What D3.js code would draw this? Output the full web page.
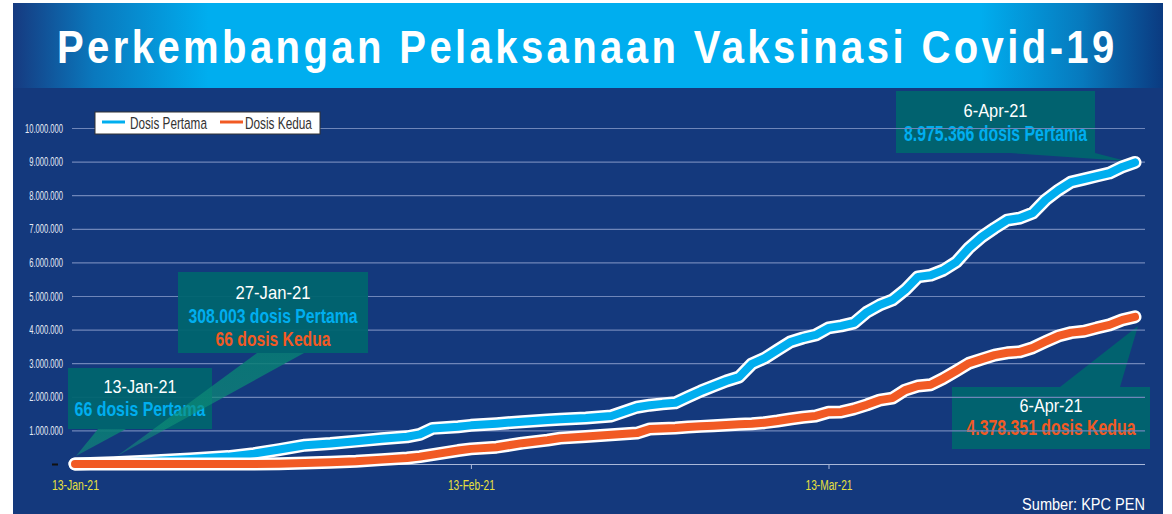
<!DOCTYPE html>
<html>
<head>
<meta charset="utf-8">
<script src="https://cdn.jsdelivr.net/npm/d3@7"></script>
<style>
  html, body { margin: 0; padding: 0; background: #fff; }
  svg { display: block; }
  text { font-family: "Liberation Sans", Arial, sans-serif; }
</style>
</head>
<body>
<div id="chart"></div>
<script>
// data (cumulative doses)
const dates = [
  "2021-01-13", "2021-01-16", "2021-01-19", "2021-01-22", "2021-01-25", "2021-01-27", "2021-01-29", "2021-01-31",
  "2021-02-02", "2021-02-04", "2021-02-06", "2021-02-08", "2021-02-09", "2021-02-10", "2021-02-12", "2021-02-13",
  "2021-02-15", "2021-02-17", "2021-02-19", "2021-02-20", "2021-02-22", "2021-02-24", "2021-02-26", "2021-02-27",
  "2021-02-28",
  "2021-03-01", "2021-03-02", "2021-03-03", "2021-03-04", "2021-03-05", "2021-03-06", "2021-03-07", "2021-03-08",
  "2021-03-09", "2021-03-10", "2021-03-11", "2021-03-12", "2021-03-13", "2021-03-14", "2021-03-15", "2021-03-16",
  "2021-03-17", "2021-03-18", "2021-03-19", "2021-03-20", "2021-03-21", "2021-03-22", "2021-03-23", "2021-03-24",
  "2021-03-25", "2021-03-26", "2021-03-27", "2021-03-28", "2021-03-29", "2021-03-30", "2021-03-31",
  "2021-04-01", "2021-04-02", "2021-04-03", "2021-04-04", "2021-04-05", "2021-04-06"
];

const dosisPertama = [
  66, 40000, 90000, 150000, 220000, 308003, 430000, 560000,
  610000, 680000, 750000, 810000, 880000, 1060000, 1110000, 1150000,
  1200000, 1260000, 1310000, 1330000, 1370000, 1430000, 1690000, 1750000,
  1790000,
  1820000, 2000000, 2170000, 2320000, 2470000, 2590000, 2980000, 3150000,
  3390000, 3630000, 3750000, 3840000, 4050000, 4110000, 4200000, 4520000,
  4730000, 4880000, 5180000, 5570000, 5620000, 5770000, 6010000, 6430000,
  6760000, 7020000, 7260000, 7320000, 7470000, 7860000, 8150000,
  8390000, 8480000, 8570000, 8660000, 8840000, 8975366
];

const dosisKedua = [
  0, 0, 0, 0, 0, 66, 10000, 30000,
  50000, 80000, 130000, 180000, 220000, 280000, 400000, 450000,
  500000, 620000, 710000, 770000, 820000, 870000, 920000, 1040000,
  1060000,
  1070000, 1100000, 1120000, 1140000, 1160000, 1180000, 1200000, 1230000,
  1280000, 1340000, 1390000, 1430000, 1540000, 1550000, 1640000, 1760000,
  1900000, 1960000, 2200000, 2320000, 2360000, 2550000, 2770000, 3000000,
  3120000, 3240000, 3310000, 3340000, 3460000, 3640000, 3810000,
  3910000, 3950000, 4050000, 4140000, 4290000, 4378351
];

const seriesNames = ["Dosis Pertama", "Dosis Kedua"];
const yTicks = [0, 1e6, 2e6, 3e6, 4e6, 5e6, 6e6, 7e6, 8e6, 9e6, 10e6];
const xTicks = ["2021-01-13", "2021-02-13", "2021-03-13"];

const title = "Perkembangan Pelaksanaan Vaksinasi Covid-19";
const source = "Sumber: KPC PEN";

const COLORS = {
  navy: "#14397d",
  pertama: "#00aeef",
  kedua: "#f15a24",
  box: "#00646f",
  grid: "#6f86b9",
  tick: "#e8e03c"
};

// callout boxes (layout in px)
const callouts = [
  { x: 68, y: 368, w: 144, h: 61, top: false, tail: [[98, 429], [126, 429], [76, 456]],
    lines: [
      { t: "13-Jan-21", y: 393, w: 73, size: 18, color: "#fff" },
      { t: "66 dosis Pertama", y: 416, w: 131, size: 21, color: COLORS.pertama, bold: true }
    ] },
  { x: 178, y: 272, w: 190, h: 81, top: false, tail: [[257, 353], [304, 353], [117, 456]],
    lines: [
      { t: "27-Jan-21", y: 299, w: 75, size: 18, color: "#fff" },
      { t: "308.003 dosis Pertama", y: 323, w: 169, size: 21, color: COLORS.pertama, bold: true },
      { t: "66 dosis Kedua", y: 346, w: 115, size: 21, color: COLORS.kedua, bold: true }
    ] },
  { x: 896, y: 91, w: 199, h: 62, top: true, tail: [[1010, 153], [1095, 153], [1126, 161]],
    lines: [
      { t: "6-Apr-21", y: 117, w: 64, size: 18, color: "#fff" },
      { t: "8.975.366 dosis Pertama", y: 141, w: 183, size: 22, color: COLORS.pertama, bold: true }
    ] },
  { x: 952, y: 387, w: 198, h: 62, top: true, tail: [[1060, 387], [1120, 387], [1138, 326]],
    lines: [
      { t: "6-Apr-21", y: 412, w: 63, size: 18, color: "#fff" },
      { t: "4.378.351 dosis Kedua", y: 435, w: 169, size: 22, color: COLORS.kedua, bold: true }
    ] }
];

const W = 1172, H = 514;
const parse = d3.timeParse("%Y-%m-%d");

const svg = d3.select("#chart").append("svg")
  .attr("width", W)
  .attr("height", H);

// squeeze a text horizontally so it fills width w, anchored at (x, y)
function fitText(sel, x, y, w, anchor) {
  const natural = sel.node().getComputedTextLength();
  const k = w / natural;
  sel.attr("x", 0).attr("y", 0)
    .attr("text-anchor", anchor)
    .attr("transform", `translate(${x},${y}) scale(${k},1)`);
  return sel;
}

const defs = svg.append("defs");
const grad = defs.append("linearGradient").attr("id", "titleGrad")
  .attr("x1", "0%").attr("x2", "100%");
[["0%", "#163a80"], ["7%", "#0a78bd"], ["17%", "#00aeef"], ["84%", "#00aeef"], ["93%", "#0779bd"], ["100%", "#0b3a80"]]
  .forEach(([o, c]) => grad.append("stop").attr("offset", o).attr("stop-color", c));

const tailGrad = defs.append("linearGradient").attr("id", "tailGrad")
  .attr("x1", "0%").attr("x2", "0%").attr("y1", "0%").attr("y2", "100%");
tailGrad.append("stop").attr("offset", "0%").attr("stop-color", "#087a74").attr("stop-opacity", 0.9);
tailGrad.append("stop").attr("offset", "100%").attr("stop-color", "#13a07a").attr("stop-opacity", 0.45);

// panel + title bar
svg.append("rect").attr("x", 13).attr("y", 3).attr("width", 1150).attr("height", H - 3).attr("fill", COLORS.navy);
svg.append("rect").attr("x", 13).attr("y", 3).attr("width", 1150).attr("height", 85).attr("fill", "url(#titleGrad)");

fitText(svg.append("text")
  .attr("font-size", 47).attr("font-weight", "bold")
  .attr("letter-spacing", 4)
  .attr("fill", "#fff")
  .text(title), 57, 63, 1058 + 3, "start");

// scales
const x = d3.scaleTime()
  .domain([parse(dates[0]), parse(dates[dates.length - 1])])
  .range([75, 1135]);
const y = d3.scaleLinear().domain([0, 10e6]).range([464, 128]);

const gridX0 = 72, gridX1 = 1145;

function drawCallout(g, c) {
  g.append("polygon")
    .attr("points", c.tail.map(p => p.join(",")).join(" "))
    .attr("fill", c.top ? COLORS.box : "url(#tailGrad)")
    .attr("opacity", c.top ? 0.95 : 1);
  g.append("rect")
    .attr("x", c.x).attr("y", c.y).attr("width", c.w).attr("height", c.h)
    .attr("fill", COLORS.box).attr("opacity", 0.95);
  c.lines.forEach(l => {
    const t = g.append("text")
      .attr("font-size", l.size)
      .attr("font-weight", l.bold ? "bold" : "normal")
      .attr("fill", l.color)
      .text(l.t);
    fitText(t, c.x + c.w / 2, l.y, l.w, "middle");
  });
}

// right-hand callouts sit under the gridlines
const under = svg.append("g");
callouts.filter(c => c.top).forEach(c => drawCallout(under, c));

// y axis with gridlines
const yAxis = svg.append("g")
  .attr("transform", `translate(${gridX0},0)`)
  .call(d3.axisLeft(y)
    .tickValues(yTicks)
    .tickSize(-(gridX1 - gridX0))
    .tickPadding(9)
    .tickFormat(d => d === 0 ? "" : d3.format(",")(d).replace(/,/g, ".")));
yAxis.select(".domain").remove();
yAxis.selectAll(".tick line")
  .attr("stroke", d => d === 0 ? "#a9b8d9" : COLORS.grid)
  .attr("stroke-width", 1.2);
const yLabels = yAxis.selectAll(".tick text")
  .attr("fill", "#e6ebf5")
  .attr("font-size", 12.5);
// condense labels so "10.000.000" is 38px wide
const yk = 38 / yLabels.filter(d => d === 10e6).node().getComputedTextLength();
yLabels.attr("x", -9 / yk).attr("transform", `scale(${yk},1)`);
// zero label is a dark dash
yAxis.selectAll(".tick").filter(d => d === 0)
  .append("rect")
  .attr("x", -20).attr("y", -1).attr("width", 6).attr("height", 2)
  .attr("fill", "#111");

// x axis
const xAxis = svg.append("g")
  .attr("transform", `translate(0,${y(0)})`)
  .call(d3.axisBottom(x)
    .tickValues(xTicks.map(parse))
    .tickSize(5)
    .tickPadding(10)
    .tickFormat(d3.timeFormat("%-d-%b-%y")));
xAxis.select(".domain").remove();
xAxis.selectAll(".tick line").attr("stroke", "#a9b8d9");
xAxis.selectAll(".tick text")
  .attr("fill", COLORS.tick)
  .attr("font-size", 15)
  .each(function () {
    const k = 47 / this.getComputedTextLength();
    d3.select(this).attr("transform", `scale(${k},1)`);
  });

// left callouts over the gridlines
const over = svg.append("g");
callouts.filter(c => !c.top).forEach(c => drawCallout(over, c));

// lines
const line = d3.line()
  .x(d => x(d.date))
  .y(d => y(d.value));

const series = [
  { name: seriesNames[0], color: COLORS.pertama, values: dosisPertama },
  { name: seriesNames[1], color: COLORS.kedua, values: dosisKedua }
].map(s => ({ ...s, points: dates.map((d, i) => ({ date: parse(d), value: s.values[i] })) }));

series.forEach(s => {
  svg.append("path")
    .datum(s.points)
    .attr("fill", "none")
    .attr("stroke", "#fff")
    .attr("stroke-width", 13)
    .attr("stroke-linejoin", "round")
    .attr("stroke-linecap", "round")
    .attr("d", line);
  svg.append("path")
    .datum(s.points)
    .attr("fill", "none")
    .attr("stroke", s.color)
    .attr("stroke-width", 8)
    .attr("stroke-linejoin", "round")
    .attr("stroke-linecap", "round")
    .attr("d", line);
});

// legend
const legend = svg.append("g").attr("transform", "translate(95,112)");
legend.append("rect")
  .attr("width", 225).attr("height", 22)
  .attr("fill", "#fff").attr("stroke", "#333").attr("stroke-width", 1);
const legendItems = [
  { sx: 7, tx: 35, tw: 77 },
  { sx: 125, tx: 150, tw: 67 }
];
series.forEach((s, i) => {
  const it = legendItems[i];
  legend.append("line")
    .attr("x1", it.sx).attr("x2", it.sx + 23)
    .attr("y1", 10).attr("y2", 10)
    .attr("stroke", s.color).attr("stroke-width", 3);
  fitText(legend.append("text")
    .attr("font-size", 17)
    .attr("fill", "#333")
    .text(s.name), it.tx, 17, it.tw, "start");
});

// source
fitText(svg.append("text")
  .attr("font-size", 17)
  .attr("fill", "#fff")
  .text(source), 1145, 510, 123, "end");
</script>
</body>
</html>
